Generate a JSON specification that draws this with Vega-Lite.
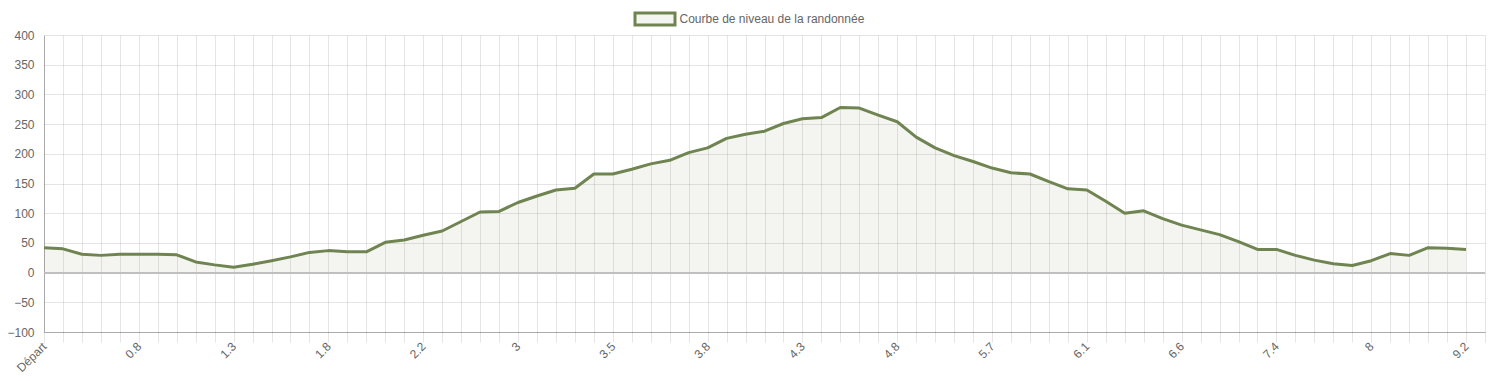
{
  "$schema": "https://vega.github.io/schema/vega-lite/v6.json",
  "width": 1441,
  "height": 297,
  "autosize": {"type": "none"},
  "padding": {"left": 44, "top": 35, "right": 8, "bottom": 49},
  "background": "white",
  "config": {
    "view": {"stroke": null},
    "font": "Liberation Sans"
  },
  "data": {
    "values": [
      {"i": 0, "alt": 42}, {"i": 1, "alt": 40}, {"i": 2, "alt": 31}, {"i": 3, "alt": 29},
      {"i": 4, "alt": 31}, {"i": 5, "alt": 31}, {"i": 6, "alt": 31}, {"i": 7, "alt": 30},
      {"i": 8, "alt": 18}, {"i": 9, "alt": 13}, {"i": 10, "alt": 9}, {"i": 11, "alt": 14},
      {"i": 12, "alt": 20}, {"i": 13, "alt": 26.5}, {"i": 14, "alt": 34}, {"i": 15, "alt": 37},
      {"i": 16, "alt": 35}, {"i": 17, "alt": 35}, {"i": 18, "alt": 51}, {"i": 19, "alt": 55},
      {"i": 20, "alt": 63}, {"i": 21, "alt": 70}, {"i": 22, "alt": 86}, {"i": 23, "alt": 102},
      {"i": 24, "alt": 103}, {"i": 25, "alt": 118}, {"i": 26, "alt": 129}, {"i": 27, "alt": 139},
      {"i": 28, "alt": 142}, {"i": 29, "alt": 166}, {"i": 30, "alt": 166}, {"i": 31, "alt": 174},
      {"i": 32, "alt": 183}, {"i": 33, "alt": 189}, {"i": 34, "alt": 202}, {"i": 35, "alt": 210},
      {"i": 36, "alt": 226}, {"i": 37, "alt": 233}, {"i": 38, "alt": 238}, {"i": 39, "alt": 251},
      {"i": 40, "alt": 259}, {"i": 41, "alt": 261}, {"i": 42, "alt": 278}, {"i": 43, "alt": 277},
      {"i": 44, "alt": 265}, {"i": 45, "alt": 254}, {"i": 46, "alt": 228}, {"i": 47, "alt": 210},
      {"i": 48, "alt": 197}, {"i": 49, "alt": 187}, {"i": 50, "alt": 176}, {"i": 51, "alt": 168},
      {"i": 52, "alt": 166}, {"i": 53, "alt": 153}, {"i": 54, "alt": 141}, {"i": 55, "alt": 139},
      {"i": 56, "alt": 120}, {"i": 57, "alt": 100}, {"i": 58, "alt": 104}, {"i": 59, "alt": 91},
      {"i": 60, "alt": 80}, {"i": 61, "alt": 72}, {"i": 62, "alt": 64}, {"i": 63, "alt": 52},
      {"i": 64, "alt": 39}, {"i": 65, "alt": 39}, {"i": 66, "alt": 29}, {"i": 67, "alt": 21},
      {"i": 68, "alt": 15}, {"i": 69, "alt": 12}, {"i": 70, "alt": 20}, {"i": 71, "alt": 32},
      {"i": 72, "alt": 29}, {"i": 73, "alt": 42}, {"i": 74, "alt": 41}, {"i": 75, "alt": 39}
    ]
  },
  "encoding": {
    "x": {
      "field": "i",
      "type": "quantitative",
      "scale": {"domain": [0, 76], "nice": false, "zero": false},
      "axis": {
        "title": null,
        "values": [0,1,2,3,4,5,6,7,8,9,10,11,12,13,14,15,16,17,18,19,20,21,22,23,24,25,26,27,28,29,30,31,32,33,34,35,36,37,38,39,40,41,42,43,44,45,46,47,48,49,50,51,52,53,54,55,56,57,58,59,60,61,62,63,64,65,66,67,68,69,70,71,72,73,74,75,76],
        "labelExpr": "datum.value % 5 === 0 && datum.value <= 75 ? ['Départ','0.8','1.3','1.8','2.2','3','3.5','3.8','4.3','4.8','5.7','6.1','6.6','7.4','8','9.2'][datum.value / 5] : ''",
        "labelAngle": -45,
        "labelAlign": "right",
        "labelBaseline": "middle",
        "labelPadding": 2,
        "labelFontSize": 12,
        "labelColor": "#666666",
        "labelOverlap": false,
        "labelFlush": false,
        "grid": true,
        "gridColor": "rgba(0,0,0,0.1)",
        "gridWidth": 1,
        "ticks": true,
        "tickSize": 10,
        "tickColor": "rgba(0,0,0,0.1)",
        "domainColor": "rgba(0,0,0,0.25)",
        "domainWidth": 1
      }
    },
    "y": {
      "field": "alt",
      "type": "quantitative",
      "scale": {"domain": [-100, 400], "nice": false},
      "axis": {
        "title": null,
        "values": [-100, -50, 0, 50, 100, 150, 200, 250, 300, 350, 400],
        "grid": true,
        "gridColor": "rgba(0,0,0,0.1)",
        "ticks": false,
        "labelPadding": 10,
        "labelFontSize": 12,
        "labelColor": "#666666",
        "labelBaseline": "middle",
        "domainColor": "rgba(0,0,0,0.25)"
      }
    }
  },
  "layer": [
    {
      "mark": {"type": "area", "fill": "#6f8451", "fillOpacity": 0.08, "interpolate": "linear"}
    },
    {
      "mark": {"type": "rule", "stroke": "#bfbfbf", "strokeWidth": 1},
      "encoding": {"y": {"datum": 0}, "x": null}
    },
    {
      "mark": {"type": "line", "strokeWidth": 3, "strokeJoin": "round"},
      "encoding": {
        "color": {
          "datum": "Courbe de niveau de la randonnée",
          "type": "nominal",
          "scale": {"range": ["#6f8451"]},
          "legend": {
            "title": null,
            "orient": "none",
            "legendX": 589.5,
            "legendY": -37.5,
            "padding": 0,
            "symbolType": "M-1,-0.3H1V0.3H-1Z",
            "symbolSize": 1600,
            "symbolStrokeWidth": 3,
            "symbolStrokeColor": "#6f8451",
            "symbolFillColor": "rgba(111,132,81,0.08)",
            "labelFontSize": 12,
            "labelColor": "#666666",
            "labelOffset": 3,
            "labelLimit": 0
          }
        }
      }
    }
  ]
}
